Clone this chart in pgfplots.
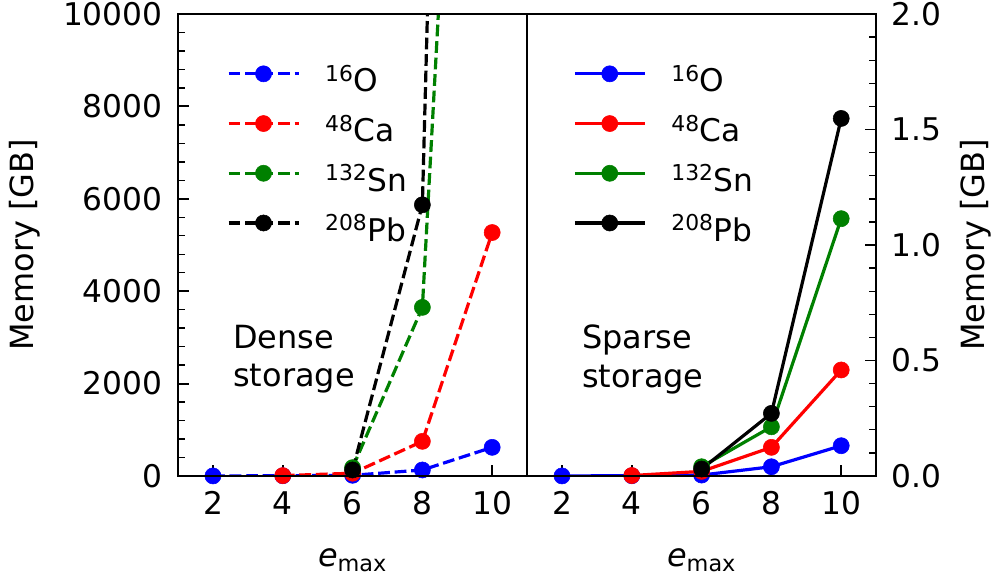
\documentclass[border=0pt]{standalone}
\usepackage{fontspec}
\setmainfont{DejaVu Sans}
\usepackage{pgfplots}
\pgfplotsset{compat=1.18}
\definecolor{mplgreen}{rgb}{0,0.5,0}
\definecolor{mplblue}{rgb}{0,0,1}
\definecolor{mplred}{rgb}{1,0,0}

\pgfplotsset{
  panel/.style={
    scale only axis, width=251.3pt, height=332.6pt,
    xmin=1, xmax=11, xtick={2,4,6,8,10}, xticklabels={2,4,6,8,10},
    tick align=inside, xtick pos=bottom,
    minor y tick num=4,
    major tick length=8pt, minor tick length=5pt,
    tick style={black},
    major tick style={line width=1.4pt},
    minor tick style={line width=1pt},
    axis line style={line width=1.6pt},
    after end axis/.code={\draw[line width=1.6pt, black] (rel axis cs:0,0) rectangle (rel axis cs:1,1);},
    ticklabel style={font=\fontsize{22.5}{27}\selectfont, inner sep=0pt},
    xticklabel shift=11pt, yticklabel shift=11pt,
    label style={font=\fontsize{23}{27.6}\selectfont},
    xlabel={\textit{e}\textsubscript{max}},
    xlabel style={at={(axis description cs:0.5,-0.195)}, anchor=base, inner sep=0pt},
    ylabel={Memory [GB]},
    every axis plot/.append style={line width=2.3pt, mark=*, mark size=5.8pt, mark options={solid, line width=0.4pt}},
    legend image code/.code={\draw[mark repeat=2,mark phase=2,##1] plot coordinates {(0pt,7pt) (25.2pt,7pt) (50.4pt,7pt)};},
    legend cell align=left,
    legend style={draw=none, fill=none, inner sep=0pt, outer sep=0pt, anchor=north west,
      row sep=11pt, column sep=18pt, font=\fontsize{22.5}{26}\selectfont,
      nodes={inner sep=0pt, text height=18pt, text depth=6pt}},
  },
  dashedline/.style={dash pattern=on 8.5pt off 3.4pt},
}

\begin{document}
\begin{tikzpicture}
\begin{axis}[panel,
  ymin=0, ymax=10000,
  ytick={0,2000,4000,6000,8000,10000},
  yticklabels={0,2000,4000,6000,8000,10000},
  ytick pos=left,
  ylabel style={at={(axis description cs:-0.438,0.5)}, anchor=center},
  legend style={at={(axis description cs:0.140,0.888)}},
]
\addplot[mplblue, dashedline] coordinates {(2,1) (4,5) (6,15) (8,130) (10,620)};
\addlegendentry{\textsuperscript{16}O}
\addplot[mplred, dashedline] coordinates {(4,8) (6,60) (8,750) (10,5270)};
\addlegendentry{\textsuperscript{48}Ca}
\addplot[mplgreen, dashedline] coordinates {(6,180) (8,3650) (10,31400)};
\addlegendentry{\textsuperscript{132}Sn}
\addplot[black, dashedline] coordinates {(6,130) (8,5870) (10,63000)};
\addlegendentry{\textsuperscript{208}Pb}
\node[anchor=north west, inner sep=0pt, align=left, font=\fontsize{23}{27.6}\selectfont] at (axis cs:2.576,3268) {Dense\\storage};
\end{axis}
\begin{axis}[panel, at={(251.3pt,0pt)}, anchor=south west,
  ymin=0, ymax=2,
  ytick={0,0.5,1,1.5,2},
  yticklabels={0.0,0.5,1.0,1.5,2.0},
  ytick pos=right, yticklabel pos=right,
  ylabel style={at={(axis description cs:1.284,0.5)}, anchor=center},
  legend style={at={(axis description cs:0.132,0.888)}},
]
\addplot[mplblue] coordinates {(2,0.0003) (4,0.001) (6,0.004) (8,0.040) (10,0.131)};
\addlegendentry{\textsuperscript{16}O}
\addplot[mplred] coordinates {(4,0.002) (6,0.02) (8,0.124) (10,0.459)};
\addlegendentry{\textsuperscript{48}Ca}
\addplot[mplgreen] coordinates {(6,0.04) (8,0.213) (10,1.114)};
\addlegendentry{\textsuperscript{132}Sn}
\addplot[black] coordinates {(6,0.03) (8,0.271) (10,1.548)};
\addlegendentry{\textsuperscript{208}Pb}
\node[anchor=north west, inner sep=0pt, align=left, font=\fontsize{23}{27.6}\selectfont] at (axis cs:2.57,0.654) {Sparse\\storage};
\end{axis}
\pgfresetboundingbox
\path[use as bounding box] (-128.2pt,-73.4pt) rectangle (588.2pt,342.7pt);
\end{tikzpicture}
\end{document}
